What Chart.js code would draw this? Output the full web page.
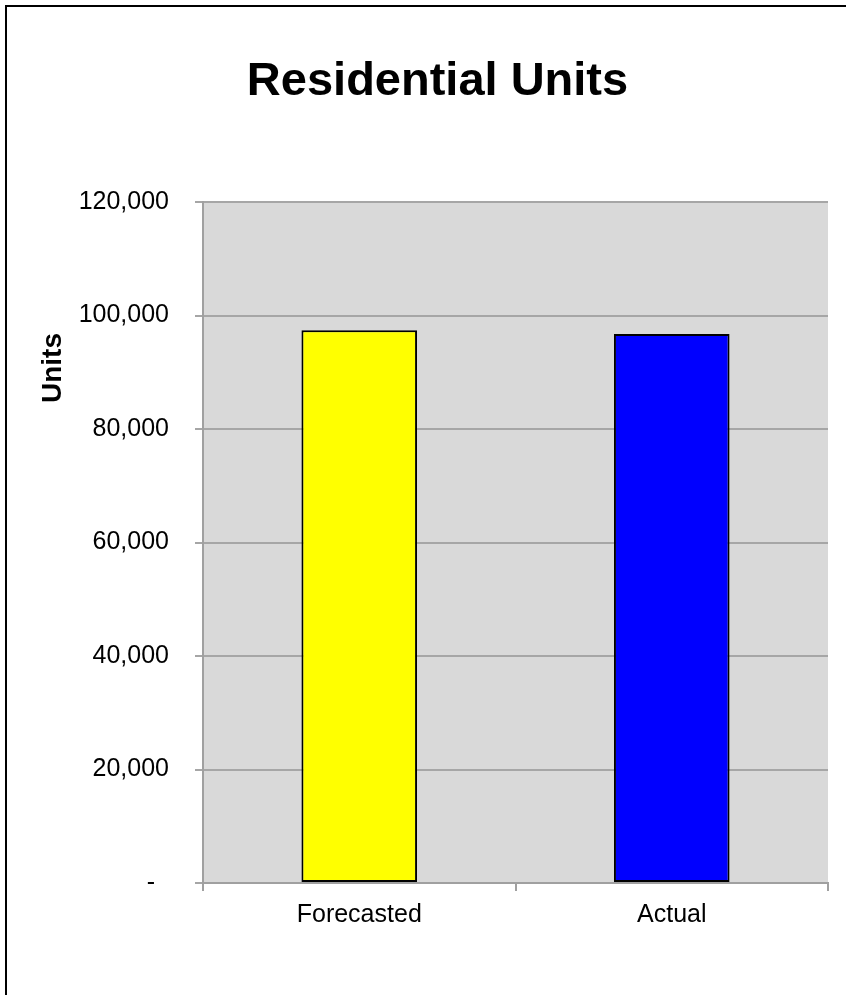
<!DOCTYPE html>
<html>
<head>
<meta charset="utf-8">
<script src="https://cdn.jsdelivr.net/npm/chart.js@4"></script>
<style>
  html, body { margin: 0; padding: 0; background: #fff; }
  #wrap { width: 846px; height: 995px; position: relative; }
</style>
</head>
<body>
<div id="wrap"><canvas id="grafico"></canvas></div>
<script>
const categorias = ["Forecasted", "Actual"];
const unidades = [97400, 96750];
const coresBarras = ["#ffff00", "#0000ff"];
const titulo = "Residential Units";
const tituloEixoY = "Units";

const fonte = "'Liberation Sans', Arial, sans-serif";

// fundo cinza da area do grafico + moldura preta + titulo do eixo Y
const fundoPlot = {
  id: "fundoPlot",
  beforeDraw(chart) {
    const { ctx, chartArea: a } = chart;
    ctx.save();
    ctx.fillStyle = "#ffffff";
    ctx.fillRect(0, 0, chart.width, chart.height);
    ctx.fillStyle = "#d9d9d9";
    ctx.fillRect(a.left, a.top, a.right - a.left, a.bottom - a.top);
    ctx.strokeStyle = "#000000";
    ctx.lineWidth = 2;
    ctx.strokeRect(6, 6, chart.width + 20, chart.height + 20);
    ctx.restore();
  },
  afterDraw(chart) {
    const ctx = chart.ctx;
    ctx.save();
    ctx.translate(53, 368);
    ctx.rotate(-Math.PI / 2);
    ctx.fillStyle = "#000000";
    ctx.font = "bold 28px " + fonte;
    ctx.textAlign = "center";
    ctx.textBaseline = "middle";
    ctx.fillText(tituloEixoY, 0, 0);
    ctx.restore();
  }
};

new Chart(document.getElementById("grafico"), {
  type: "bar",
  data: {
    labels: categorias,
    datasets: [{
      data: unidades,
      backgroundColor: coresBarras,
      borderColor: "#000000",
      borderWidth: 2,
      borderSkipped: false,
      barPercentage: 0.74,
      categoryPercentage: 0.5
    }]
  },
  options: {
    responsive: true,
    maintainAspectRatio: false,
    animation: false,
    layout: { padding: { top: 0, right: 18, bottom: 0, left: 47 } },
    plugins: {
      legend: { display: false },
      tooltip: { enabled: false },
      title: {
        display: true,
        text: titulo,
        color: "#000000",
        font: { family: fonte, size: 47, weight: "bold" },
        padding: { top: 54, bottom: 91.6 }
      }
    },
    scales: {
      x: {
        afterFit(scale) { scale.height = 112; },
        grid: {
          display: true,
          drawOnChartArea: false,
          drawTicks: true,
          tickLength: 8,
          color: "#a0a0a0",
          lineWidth: 2,
          offset: true
        },
        border: { display: true, color: "#a0a0a0", width: 2 },
        ticks: {
          color: "#000000",
          padding: 9,
          font: { family: fonte, size: 25 }
        }
      },
      y: {
        min: 0,
        max: 120000,
        afterFit(scale) { scale.width = 156; },
        grid: {
          color: "#a6a6a6",
          lineWidth: 2,
          drawTicks: true,
          tickLength: 8
        },
        border: { display: true, color: "#a0a0a0", width: 2 },
        ticks: {
          stepSize: 20000,
          color: "#000000",
          padding: 26,
          font: { family: fonte, size: 25 },
          callback: v => v === 0 ? "-  " : v.toLocaleString("en-US")
        }
      }
    }
  },
  plugins: [fundoPlot]
});
</script>
</body>
</html>
